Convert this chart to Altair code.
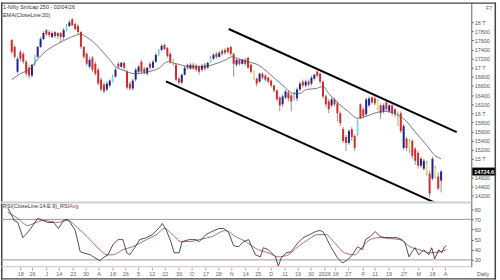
import altair as alt
import pandas as pd

# ---------------- data ----------------
OPEN = [17609,17457,16914,17349,17305,17132,17001,16828,17066,17240,
        17457,17631,17826,17783,17674,17783,17761,17761,17674,17826,
        17913,18065,17957,17913,17783,17457,17305,17023,17218,17088,
        16958,16741,16632,16524,16611,16697,16806,17088,17023,17110,
        16914,16654,16545,16741,16914,17132,16980,16871,17088,17001,
        17132,17284,17392,17500,17435,17305,17153,17066,16762,16676,
        16849,17066,16980,17066,17045,17023,16958,17066,17001,17132,
        17197,17305,17240,17370,17392,17435,17457,17305,17066,17175,
        17088,17175,17218,17066,16914,16762,16697,16871,16828,16784,
        16719,16611,16502,16350,16198,16350,16459,16393,16328,16328,
        16524,16697,16611,16697,16654,16762,16914,16871,16697,16372,
        16263,16176,16307,16220,16003,15656,15482,15352,15656,15504,
        15547,16198,16090,15981,16176,16350,16328,16263,16176,16046,
        16242,16046,16176,16090,15873,16003,15243,15439,15395,15395,
        15222,15135,14852,14787,14896,14678,14570,14809,14613,14526]
HIGH = [17631,17500,17240,17392,17349,17175,17066,17088,17284,17479,
        17674,17804,17848,17826,17804,17804,17783,17783,17870,17957,
        18043,18087,18000,17957,17804,17479,17349,17240,17262,17132,
        17001,16784,16676,16697,16741,16849,17001,17132,17132,17132,
        16958,16697,16762,17001,17066,17175,17023,17023,17132,17175,
        17327,17414,17522,17522,17457,17349,17197,17088,16806,16871,
        17045,17088,17110,17110,17088,17066,17088,17110,17132,17262,
        17327,17349,17370,17414,17435,17457,17479,17327,17197,17197,
        17197,17218,17240,17088,16936,16784,16893,16893,16849,16806,
        16741,16632,16524,16372,16415,16524,16502,16437,16480,16567,
        16697,16741,16741,16741,16828,16871,16936,16893,16719,16415,
        16307,16350,16350,16263,16046,15699,15525,15656,15699,15547,
        15873,16220,16133,16350,16372,16372,16372,16307,16220,16220,
        16285,16198,16198,16111,16046,16046,15764,15482,15439,15439,
        15265,15178,15048,15005,14961,14744,15048,14852,14700,14765]
LOW = [17305,17197,16871,17132,17088,16806,16762,16784,17045,17218,
       17435,17609,17696,17674,17652,17652,17631,17566,17609,17804,
       17891,17913,17826,17739,17414,17197,17045,16980,16914,16828,
       16611,16480,16437,16480,16567,16676,16784,16980,17001,16958,
       16524,16502,16502,16697,16871,16871,16849,16828,16958,16980,
       17110,17262,17370,17392,17218,17088,17045,16697,16632,16632,
       16828,16958,16958,16958,16914,16849,16914,16936,16980,17110,
       17175,17197,17218,17262,17284,17305,17262,16806,17023,17045,
       17066,17045,16980,16871,16741,16589,16676,16741,16697,16654,
       16567,16459,16263,16046,16133,16307,16263,16046,16285,16263,
       16480,16567,16567,16589,16611,16719,16784,16654,16328,16133,
       16003,16133,16155,15829,15721,15352,15178,15308,15395,15178,
       15504,15873,15894,15938,16133,16198,16176,16068,15873,16003,
       16046,16003,15959,15916,15721,15569,15200,15178,15135,15005,
       14874,14787,14809,14744,14635,14157,14526,14570,14309,14266]
CLOSE = [17349,17240,17197,17197,17132,16871,16828,17066,17240,17457,
         17631,17761,17739,17717,17761,17696,17696,17674,17826,17913,
         18000,17935,17848,17783,17457,17240,17088,17175,16958,16871,
         16654,16524,16480,16654,16719,16806,16958,17023,17110,17001,
         16567,16545,16719,16958,17023,16914,16893,17001,17001,17132,
         17284,17392,17479,17414,17262,17132,17088,16741,16676,16849,
         17001,17001,17066,16980,16958,16914,17045,16980,17110,17218,
         17284,17240,17327,17305,17327,17349,17305,17088,17175,17088,
         17175,17088,17001,16914,16784,16654,16871,16784,16741,16697,
         16611,16502,16307,16176,16372,16480,16328,16263,16437,16524,
         16654,16611,16697,16632,16784,16849,16828,16697,16372,16198,
         16090,16307,16198,16003,15786,15395,15352,15612,15482,15243,
         15829,15894,15938,16307,16328,16242,16220,16111,16003,16176,
         16090,16176,16003,15981,15764,15612,15721,15243,15222,15070,
         14961,14852,15005,14961,14700,14244,15005,14613,14353,14724.6]
CYAN_BARS = [8, 19, 35, 51, 69, 98, 120]
YELLOW_BARS = [56, 84, 127, 134, 138, 144, 147]

EMA_X = [0, 3, 6.4, 9.1, 12.4, 15.8, 19.2, 21.5, 23.9, 25.9, 28.3, 31.6, 34, 36, 38.3,
         42.7, 47.4, 50.8, 54.2, 55.8, 58.5, 61.9, 66.3, 69.6, 74.3, 76.4, 78.7, 82, 85.4,
         89.8, 94.5, 97.9, 99.9, 102.2, 105.6, 108, 110, 113.3, 116.7, 120.1, 123.1, 125.8,
         129.2, 133.5, 136.9, 140.3, 143.6, 147, 149]
EMA_Y = [16741, 16871, 16980, 17197, 17392, 17522, 17631, 17696, 17739, 17674, 17566, 17349,
         17175, 17023, 16958, 16871, 16914, 16980, 17132, 17110, 17066, 17023, 17023, 17066,
         17175, 17240, 17197, 17132, 17066, 16849, 16589, 16437, 16437, 16524, 16545, 16589,
         16437, 16220, 16046, 15894, 15938, 16003, 16046, 15981, 15829, 15569, 15330, 15070, 15005]

CH_UP_X = [75.3, 154.4]
CH_UP_Y = [17850, 15590]
CH_LO_X = [53.5, 150.4]
CH_LO_Y = [16700, 13940]

RSI_X = [0.3,1.3,2.4,3.7,5.4,6.4,8.1,10.4,12.1,13.8,15.8,17.5,19.2,20.5,21.5,23.2,24.9,25.9,
         28.3,29.9,31.6,32.6,34.3,36,37.7,39.4,40.7,41.7,43.4,45.1,47.4,49.4,51.8,52.8,54.2,
         55.8,56.8,58.5,59.5,61.9,64.2,65.3,67.6,69.6,72,73.7,75.3,77,78.7,80.4,82.1,84.4,
         86.1,87.1,88.8,91.2,92.2,93.2,94.9,96.5,98.9,100.6,102.9,104.9,106.3,107.3,108.3,
         110,112.3,114,115.7,117.4,119.1,120.8,121.8,123.4,125.1,126.8,128.5,130.2,132.5,
         134.2,135.2,136.6,137.6,138.6,139.9,141.6,143.3,144.3,145.3,146.7,147.7,148.7,149.3]
RSI_V = [81,76,69,67,52,55,61,71,69,67,67,61,69,70,67,59,38,37,35,32,29,32,35,45,50,50,37,35,
         42,50,52,55,62,66,59,47,37,37,48,50,50,48,55,58,61,61,57,44,43,48,50,35,33,42,40,33,
         24,32,37,38,47,52,55,58,59,58,53,43,32,27,30,35,43,40,50,53,58,53,52,52,52,50,47,33,
         38,42,35,40,35,42,31,40,37,43,44]
AVG_X = [0.3,3.7,7.1,9.1,12.4,17.2,20.5,23.9,27.2,31.6,34,36,39.4,42.7,47.4,50.8,53.5,56.2,
         59.2,61.9,65.3,69.6,74.3,77.7,81.1,85.4,88.8,92.2,95.5,98.9,102.3,105.6,108.3,111.3,
         114.7,118.1,120.8,123.4,126.8,130.2,133.5,136.9,140.3,143.6,147,149.3]
AVG_V = [77,71,64,66,69,67,69,62,53,40,35,35,40,43,50,55,61,55,48,48,50,53,59,53,48,40,37,33,
         35,43,50,55,55,47,37,35,43,50,52,51,50,43,40,37,38,40]
RSI_LEVELS = [70, 30]

PRICE_TICKS = [14200, 14400, 14600, 15000, 15200, 15400, 15600, 15800, 16000, 16200,
               16400, 16600, 16800, 17000, 17200, 17400, 17600, 17800, 18000]
RSI_TICKS = [30, 40, 50, 60, 70, 80]

XLAB_POS = [4.7, 8.7, 13.5, 17.8, 22.5, 26.9, 31.3, 36, 40.4, 44.7, 49.4, 53.8, 58.5, 62.9,
            67.6, 72, 76.4, 81.1, 85.4, 89.8, 94.5, 98.9, 103.3, 108, 111.7, 116, 121.1,
            125.1, 129.8, 134.9, 139.9, 144.6, 149]
XLAB_TXT = ["18", "26", "J", "14", "22", "30", "A", "18", "26", "5", "12", "22", "30", "O",
            "17", "28", "N", "14", "25", "D", "11", "19", "30", "2026", "16", "27", "F", "11",
            "19", "27", "M", "18", "A"]

TITLE1 = "1-Nifty Smlcap 250 - 02/04/26"
TITLE2 = "EMA(CloseLine:20)"
RSI_TITLE = "RSI(CloseLine:14:E:9)_RSI"
RSI_AVG = "Avg"

# ---------------- frames ----------------
N = len(CLOSE)
tone = []
for i in range(N):
    if i in CYAN_BARS:
        tone.append("cyan")
    elif i in YELLOW_BARS:
        tone.append("yellow")
    elif CLOSE[i] >= OPEN[i]:
        tone.append("up")
    else:
        tone.append("down")
candles = pd.DataFrame({"idx": list(range(N)), "o": OPEN, "h": HIGH, "l": LOW,
                        "c": CLOSE, "tone": tone})
last = candles.tail(1).assign(lbl=f"{CLOSE[-1]:.1f}")
ema = pd.DataFrame({"idx": EMA_X, "p": EMA_Y})
chan = pd.DataFrame({"idx": CH_UP_X + CH_LO_X, "p": CH_UP_Y + CH_LO_Y,
                     "line": ["up"] * 2 + ["lo"] * 2})
rsi = pd.DataFrame({"idx": RSI_X, "v": RSI_V})
avg = pd.DataFrame({"idx": AVG_X, "v": AVG_V})
levels = pd.DataFrame({"v": RSI_LEVELS})
xlabs = pd.DataFrame({"idx": XLAB_POS, "t": XLAB_TXT})
one = pd.DataFrame({"a": [0]})

W, H_TOP, H_RSI = 475, 201, 66
FONT = "Liberation Sans"
FS = 5.5

xs = alt.Scale(domain=[-2.02, 157.75], nice=False, zero=False)
ps = alt.Scale(domain=[14070, 18434], nice=False, zero=False)
rs = alt.Scale(domain=[23.2, 87.8], nice=False, zero=False)
X = alt.X("idx:Q", scale=xs, axis=None)

price_axis = alt.Axis(orient="right", values=PRICE_TICKS, title=None, grid=False,
                      labelExpr="datum.value % 1000 == 0 ? (datum.value / 1000) + ' T' : '' + datum.value",
                      tickSize=2, tickColor="#666", domainColor="#666", domainWidth=1,
                      labelFontSize=FS, labelFont=FONT, labelColor="#555", labelPadding=1)
rsi_axis = alt.Axis(orient="right", values=RSI_TICKS, title=None, grid=False,
                    tickSize=2, tickColor="#666", domainColor="#666", domainWidth=1,
                    labelFontSize=FS, labelFont=FONT, labelColor="#555", labelPadding=1)


def PY(field):
    return alt.Y(field, scale=ps, axis=price_axis)


def RY(field):
    return alt.Y(field, scale=rs, axis=rsi_axis)


wicks = alt.Chart(candles).mark_rule(color="#777", strokeWidth=0.8).encode(
    x=X, y=PY("h:Q"), y2="l:Q")
bodies = alt.Chart(candles).mark_bar(width=2).encode(
    x=X, y=PY("o:Q"), y2="c:Q",
    color=alt.Color("tone:N", legend=None,
                    scale=alt.Scale(domain=["up", "down", "cyan", "yellow"],
                                    range=["#1f1f8f", "#d42a2a", "#86dcec", "#f3dc8a"])))
ema_line = alt.Chart(ema).mark_line(color="#555", strokeWidth=0.8, interpolate="monotone").encode(
    x=X, y=PY("p:Q"))
chan_line = alt.Chart(chan).mark_line(color="#000", strokeWidth=2, clip=True).encode(
    x=X, y=PY("p:Q"), detail="line:N")
tag = alt.Chart(last).mark_rule(color="#000", strokeWidth=8).encode(
    y=PY("c:Q"), x=alt.value(476), x2=alt.value(500))
tag_txt = alt.Chart(last).mark_text(color="#fff", font=FONT, fontSize=FS, fontWeight="bold",
                                    align="center", baseline="middle").encode(
    y=PY("c:Q"), x=alt.value(488), text="lbl:N")
t1 = alt.Chart(one).mark_text(text=TITLE1, font=FONT, fontSize=FS, color="#333",
                              align="left", baseline="middle").encode(x=alt.value(2), y=alt.value(5))
t2 = alt.Chart(one).mark_text(text=TITLE2, font=FONT, fontSize=FS, color="#333",
                              align="left", baseline="middle").encode(x=alt.value(2), y=alt.value(13))
f7 = alt.Chart(one).mark_text(text="F7", font=FONT, fontSize=FS, color="#666",
                              align="center", baseline="middle").encode(x=alt.value(493), y=alt.value(6))
b_top = alt.Chart(one).mark_rule(color="#444", strokeWidth=1.5).encode(
    x=alt.value(0), x2=alt.value(500), y=alt.value(0.75))
b_left = alt.Chart(one).mark_rule(color="#444", strokeWidth=1.5).encode(
    x=alt.value(0.75), y=alt.value(0), y2=alt.value(280))
b_right = alt.Chart(one).mark_rule(color="#444", strokeWidth=1.5).encode(
    x=alt.value(499.25), y=alt.value(0), y2=alt.value(280))

top = alt.layer(wicks, bodies, ema_line, chan_line, tag, tag_txt, t1, t2, f7,
                b_top, b_left, b_right).properties(width=W, height=H_TOP)

divider = alt.Chart(one).mark_rule(color="#cfcfcf", strokeWidth=2).encode(
    x=alt.value(0), x2=alt.value(W), y=alt.value(1))
bottom_line = alt.Chart(one).mark_rule(color="#e6b4b4", strokeWidth=1).encode(
    x=alt.value(0), x2=alt.value(W), y=alt.value(66))
lvl = alt.Chart(levels).mark_rule(color="#9a9a9a", strokeWidth=1).encode(y=RY("v:Q"))
rsi_line = alt.Chart(rsi).mark_line(color="#222", strokeWidth=0.8).encode(x=X, y=RY("v:Q"))
avg_line = alt.Chart(avg).mark_line(color="#a04848", strokeWidth=0.8, interpolate="monotone").encode(
    x=X, y=RY("v:Q"))
r_t1 = alt.Chart(one).mark_text(text=RSI_TITLE, font=FONT, fontSize=FS, color="#333",
                                align="left", baseline="middle").encode(x=alt.value(2), y=alt.value(5))
r_t2 = alt.Chart(one).mark_text(text=RSI_AVG, font=FONT, fontSize=FS, color="#b04040",
                                align="left", baseline="middle").encode(x=alt.value(69), y=alt.value(5))
xt = alt.Chart(xlabs).mark_rule(color="#999", strokeWidth=0.8).encode(
    x=X, y=alt.value(67), y2=alt.value(70))
xl = alt.Chart(xlabs).mark_text(font=FONT, fontSize=FS, color="#666", baseline="middle").encode(
    x=X, y=alt.value(73.5), text="t:N")
daily = alt.Chart(one).mark_text(text="Daily", font=FONT, fontSize=FS, color="#555",
                                 align="center", baseline="middle").encode(x=alt.value(487), y=alt.value(73))
b_bot = alt.Chart(one).mark_rule(color="#444", strokeWidth=1.5).encode(
    x=alt.value(0), x2=alt.value(500), y=alt.value(78.25))

rsi_panel = alt.layer(divider, bottom_line, lvl, avg_line, rsi_line, r_t1, r_t2, xt, xl,
                      daily, b_bot).properties(width=W, height=H_RSI)

chart = alt.vconcat(top, rsi_panel, spacing=0, bounds="flush").properties(
    padding=0, background="white").configure_view(stroke=None)

chart.save("out.html", embed_options={"renderer": "svg", "actions": False})
